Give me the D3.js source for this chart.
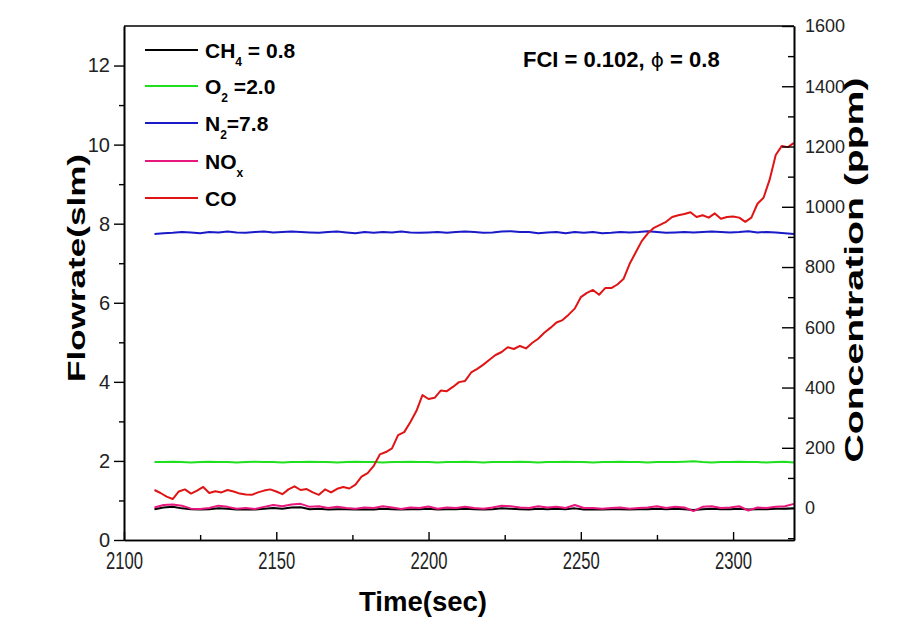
<!DOCTYPE html>
<html>
<head>
<meta charset="utf-8">
<script src="https://cdn.jsdelivr.net/npm/d3@7"></script>
<style>
body { margin: 0; background: #fff; }
text { font-family: "Liberation Sans", Arial, sans-serif; }
</style>
</head>
<body>
<svg id="chart" width="906" height="628"></svg>
<script>
// Sample times (sec) of the logged signals
const coTimes = d3.range(2110, 2321, 2);
const flowTimes = d3.range(2110, 2321, 3);

// CO concentration (ppm, right axis)
const coValues = [
    60, 50, 38, 30, 55, 62, 48, 58, 70, 50,
    56, 52, 60, 55, 48, 45, 44, 52, 58, 62,
    55, 46, 62, 72, 60, 63, 52, 44, 62, 52,
    64, 70, 65, 78, 104, 116, 140, 178, 186, 198,
    242, 252, 285, 322, 375, 362, 366, 390, 388, 402,
    418, 422, 450, 462, 476, 492, 508, 518, 534, 528,
    538, 530, 548, 562, 582, 598, 616, 624, 642, 662,
    700, 714, 724, 708, 730, 730, 742, 760, 810, 848,
    886, 912, 930, 940, 950, 966, 972, 976, 982, 966,
    972, 964, 978, 960, 966, 968, 964, 950, 964, 1010,
    1030, 1090, 1172, 1202, 1198, 1212
];

// NOx concentration (ppm, right axis)
const noxValues = [
    2, 10, 12, 8, -2, -3, 0, 8, 4, -2,
    0, -3, 4, 10, 6, 12, 14, 4, 6, 0,
    4, 0, -2, 2, 0, 6, 2, -3, 2, 0,
    5, -2, 2, 0, 4, 0, -2, 2, 8, 6,
    2, 0, 6, 2, 4, 0, 10, 0, 0, -2,
    0, 2, -2, 0, 2, 6, 0, 4, 2, -10,
    4, 6, 0, 2, 6, -8, 2, 0, 4, 6,
    14
];

// Flowrates (slm, left axis)
const ch4Values = [
    0.78, 0.82, 0.84, 0.80, 0.78, 0.77, 0.78, 0.80, 0.79, 0.77,
    0.78, 0.77, 0.79, 0.81, 0.79, 0.82, 0.83, 0.78, 0.79, 0.77,
    0.78, 0.78, 0.77, 0.78, 0.77, 0.79, 0.78, 0.77, 0.78, 0.78,
    0.79, 0.77, 0.78, 0.78, 0.79, 0.78, 0.77, 0.78, 0.80, 0.79,
    0.78, 0.77, 0.79, 0.78, 0.79, 0.78, 0.80, 0.77, 0.78, 0.77,
    0.78, 0.78, 0.77, 0.78, 0.78, 0.79, 0.78, 0.79, 0.78, 0.76,
    0.78, 0.79, 0.78, 0.78, 0.79, 0.77, 0.78, 0.78, 0.79, 0.79,
    0.80
];
const o2Values = [
    1.97, 1.97, 1.98, 1.97, 1.96, 1.97, 1.98, 1.97, 1.97, 1.96,
    1.97, 1.98, 1.97, 1.97, 1.96, 1.97, 1.97, 1.98, 1.97, 1.97,
    1.96, 1.97, 1.98, 1.97, 1.97, 1.96, 1.97, 1.97, 1.98, 1.97,
    1.97, 1.96, 1.97, 1.97, 1.98, 1.97, 1.96, 1.97, 1.97, 1.97,
    1.98, 1.97, 1.96, 1.97, 1.97, 1.98, 1.97, 1.97, 1.96, 1.97,
    1.97, 1.98, 1.97, 1.97, 1.96, 1.97, 1.97, 1.97, 1.98, 1.99,
    1.97, 1.96, 1.97, 1.97, 1.98, 1.97, 1.97, 1.96, 1.97, 1.98,
    1.96
];
const n2Values = [
    7.74, 7.76, 7.77, 7.79, 7.78, 7.76, 7.79, 7.78, 7.80, 7.78,
    7.77, 7.79, 7.80, 7.78, 7.79, 7.80, 7.79, 7.78, 7.77, 7.79,
    7.80, 7.78, 7.76, 7.79, 7.77, 7.79, 7.78, 7.80, 7.78, 7.77,
    7.78, 7.79, 7.77, 7.79, 7.80, 7.79, 7.77, 7.78, 7.80, 7.81,
    7.79, 7.79, 7.76, 7.78, 7.79, 7.76, 7.79, 7.77, 7.79, 7.76,
    7.77, 7.79, 7.78, 7.79, 7.81, 7.79, 7.77, 7.78, 7.79, 7.78,
    7.79, 7.80, 7.79, 7.78, 7.79, 7.81, 7.78, 7.79, 7.78, 7.76,
    7.74
];

// Tick values
const xTicks = [2100, 2150, 2200, 2250, 2300];
const xMinorTicks = [2125, 2175, 2225, 2275];
const leftTicks = [0, 2, 4, 6, 8, 10, 12];
const leftMinorTicks = [1, 3, 5, 7, 9, 11];
const rightTicks = [0, 200, 400, 600, 800, 1000, 1200, 1400, 1600];
const rightMinorTicks = [-100, 100, 300, 500, 700, 900, 1100, 1300, 1500];

// Plot box
const plot = { left: 124, right: 794, top: 26, bottom: 540 };

const svg = d3.select("#chart");

const x = d3.scaleLinear().domain([2100, 2320]).range([plot.left, plot.right]);
const yLeft = d3.scaleLinear().domain([0, 13]).range([plot.bottom, plot.top]);
const yRight = d3.scaleLinear().domain([-106, 1600]).range([plot.bottom, plot.top]);

// Series, in drawing order
const series = [
    { key: "ch4", times: flowTimes, values: ch4Values, scale: yLeft, color: "#000000" },
    { key: "o2", times: flowTimes, values: o2Values, scale: yLeft, color: "#1fe01f" },
    { key: "n2", times: flowTimes, values: n2Values, scale: yLeft, color: "#1a1ac8" },
    { key: "nox", times: flowTimes, values: noxValues, scale: yRight, color: "#e8177d" },
    { key: "co", times: coTimes, values: coValues, scale: yRight, color: "#e01414" }
];

series.forEach(s => {
    const pts = s.values.map((v, i) => [s.times[i], v]);
    const line = d3.line()
        .x(d => x(d[0]))
        .y(d => s.scale(d[1]));
    svg.append("path")
        .datum(pts)
        .attr("fill", "none")
        .attr("stroke", s.color)
        .attr("stroke-width", 2)
        .attr("stroke-linejoin", "round")
        .attr("d", line);
});

// Axes
const tickStyle = g => {
    g.selectAll(".domain").attr("stroke", "#000").attr("stroke-width", 1.6);
    g.selectAll(".tick line").attr("stroke", "#000").attr("stroke-width", 1.4);
    g.selectAll("text").attr("fill", "#222").attr("font-family", "Liberation Sans, Arial, sans-serif");
};

// bottom (ticks point inward)
svg.append("g")
    .attr("transform", `translate(0,${plot.bottom})`)
    .call(d3.axisBottom(x).tickValues(xMinorTicks).tickSize(-5).tickSizeOuter(0).tickFormat(""))
    .call(tickStyle);
const xAxisG = svg.append("g")
    .attr("transform", `translate(0,${plot.bottom})`)
    .call(d3.axisBottom(x).tickValues(xTicks).tickSize(-8).tickSizeOuter(0).tickPadding(13).tickFormat(d3.format("d")))
    .call(tickStyle);
xAxisG.selectAll("text")
    .attr("font-size", 23)
    .attr("textLength", 37)
    .attr("lengthAdjust", "spacingAndGlyphs");

// left (ticks point outward)
svg.append("g")
    .attr("transform", `translate(${plot.left},0)`)
    .call(d3.axisLeft(yLeft).tickValues(leftMinorTicks).tickSize(5).tickSizeOuter(0).tickFormat(""))
    .call(tickStyle);
svg.append("g")
    .attr("transform", `translate(${plot.left},0)`)
    .call(d3.axisLeft(yLeft).tickValues(leftTicks).tickSize(10).tickSizeOuter(0).tickPadding(4))
    .call(tickStyle)
    .selectAll("text")
    .attr("font-size", 20);

// right (ticks point inward)
svg.append("g")
    .attr("transform", `translate(${plot.right},0)`)
    .call(d3.axisRight(yRight).tickValues(rightMinorTicks).tickSize(-6).tickSizeOuter(0).tickFormat(""))
    .call(tickStyle);
svg.append("g")
    .attr("transform", `translate(${plot.right},0)`)
    .call(d3.axisRight(yRight).tickValues(rightTicks).tickSize(-12).tickSizeOuter(0).tickPadding(11).tickFormat(d3.format("d")))
    .call(tickStyle)
    .selectAll("text")
    .attr("font-size", 18);

// top frame line
svg.append("line")
    .attr("x1", plot.left).attr("x2", plot.right)
    .attr("y1", plot.top).attr("y2", plot.top)
    .attr("stroke", "#000").attr("stroke-width", 1.6);

// Axis titles
svg.append("text")
    .attr("x", 423).attr("y", 611)
    .attr("text-anchor", "middle")
    .attr("font-size", 27).attr("font-weight", "bold")
    .attr("textLength", 128).attr("lengthAdjust", "spacingAndGlyphs")
    .text("Time(sec)");

svg.append("text")
    .attr("transform", "translate(85,268) rotate(-90)")
    .attr("text-anchor", "middle")
    .attr("font-size", 24).attr("font-weight", "bold")
    .attr("textLength", 228).attr("lengthAdjust", "spacingAndGlyphs")
    .text("Flowrate(slm)");

svg.append("text")
    .attr("transform", "translate(863,270) rotate(-90)")
    .attr("text-anchor", "middle")
    .attr("font-size", 25).attr("font-weight", "bold")
    .attr("textLength", 385).attr("lengthAdjust", "spacingAndGlyphs")
    .text("Concentration (ppm)");

// Legend
const legendItems = [
    { color: "#000000", parts: [["CH", 0], ["4", 1], [" = 0.8", 0]] },
    { color: "#1fe01f", parts: [["O", 0], ["2", 1], [" =2.0", 0]] },
    { color: "#1a1ac8", parts: [["N", 0], ["2", 1], ["=7.8", 0]] },
    { color: "#e8177d", parts: [["NO", 0], ["x", 1]] },
    { color: "#e01414", parts: [["CO", 0]] }
];
const legendRows = [50, 86, 123, 161, 198];

legendItems.forEach((item, i) => {
    const yy = legendRows[i];
    svg.append("line")
        .attr("x1", 145).attr("x2", 198)
        .attr("y1", yy).attr("y2", yy)
        .attr("stroke", item.color).attr("stroke-width", 2);
    const t = svg.append("text")
        .attr("x", 205).attr("y", yy + 8)
        .attr("font-size", 21).attr("font-weight", "bold")
        .attr("fill", "#000");
    let shifted = 0;
    item.parts.forEach(p => {
        const sub = p[1] === 1;
        const dy = sub ? 8 - shifted : -shifted;
        shifted = sub ? 8 : 0;
        t.append("tspan")
            .attr("dy", dy)
            .attr("font-size", sub ? 12 : 21)
            .text(p[0]);
    });
});

// Annotation
const note = svg.append("text")
    .attr("x", 523).attr("y", 67)
    .attr("font-size", 22).attr("font-weight", "bold")
    .attr("fill", "#000");
note.append("tspan").text("FCI = 0.102, ");
note.append("tspan").attr("font-weight", "normal").attr("font-family", "DejaVu Sans, sans-serif").attr("font-size", 20).text("\u03D5");
note.append("tspan").text(" = 0.8");
</script>
</body>
</html>
